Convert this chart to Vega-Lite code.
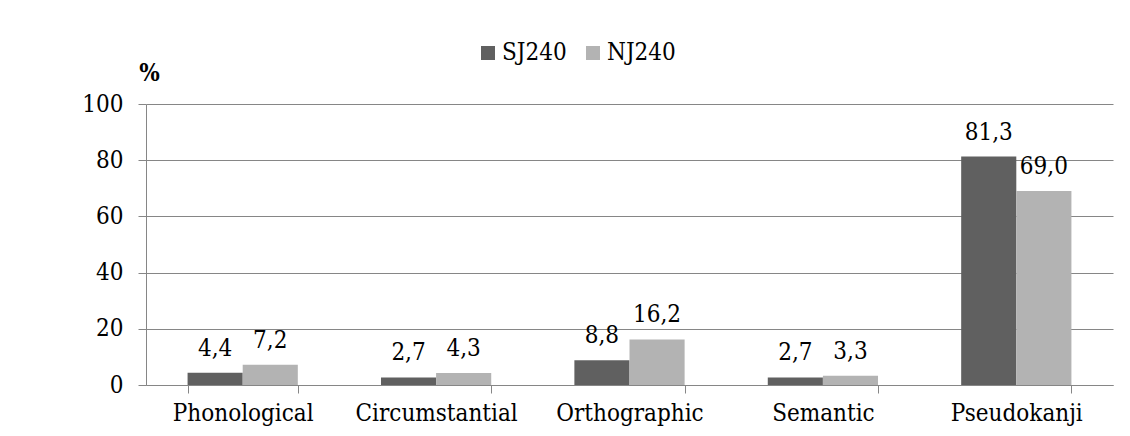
{
  "$schema": "https://vega.github.io/schema/vega-lite/v6.json",
  "width": 967,
  "height": 281,
  "autosize": "none",
  "padding": {"left": 146, "top": 104, "right": 17, "bottom": 51},
  "background": "white",
  "data": {
    "values": [
      {"category": "Phonological", "series": "SJ240", "value": 4.4},
      {"category": "Phonological", "series": "NJ240", "value": 7.2},
      {"category": "Circumstantial", "series": "SJ240", "value": 2.7},
      {"category": "Circumstantial", "series": "NJ240", "value": 4.3},
      {"category": "Orthographic", "series": "SJ240", "value": 8.8},
      {"category": "Orthographic", "series": "NJ240", "value": 16.2},
      {"category": "Semantic", "series": "SJ240", "value": 2.7},
      {"category": "Semantic", "series": "NJ240", "value": 3.3},
      {"category": "Pseudokanji", "series": "SJ240", "value": 81.3},
      {"category": "Pseudokanji", "series": "NJ240", "value": 69.0}
    ]
  },
  "encoding": {
    "x": {
      "field": "category",
      "type": "nominal",
      "sort": null,
      "scale": {"paddingInner": 0.43, "paddingOuter": 0.215},
      "axis": {
        "title": null,
        "labelAngle": 0,
        "tickBand": "extent",
        "tickSize": 8,
        "labelPadding": 8,
        "labelLimit": 0,
        "grid": false
      }
    },
    "xOffset": {
      "field": "series",
      "type": "nominal",
      "sort": ["SJ240", "NJ240"],
      "scale": {"paddingInner": 0, "paddingOuter": 0}
    },
    "y": {
      "field": "value",
      "type": "quantitative",
      "scale": {"domain": [0, 100], "nice": false},
      "axis": {
        "values": [0, 20, 40, 60, 80, 100],
        "tickSize": 8,
        "labelPadding": 15,
        "grid": true,
        "title": "%",
        "titleAngle": 0,
        "titleFontWeight": "bold",
        "titleAlign": "center",
        "titleBaseline": "alphabetic",
        "titleX": 3,
        "titleY": -24
      }
    }
  },
  "layer": [
    {
      "mark": {"type": "bar"},
      "encoding": {
        "color": {
          "field": "series",
          "type": "nominal",
          "scale": {"domain": ["SJ240", "NJ240"], "range": ["#606060", "#b3b3b3"]},
          "legend": {
            "title": null,
            "orient": "none",
            "direction": "horizontal",
            "legendX": 330,
            "legendY": -63,
            "symbolType": "square",
            "symbolSize": 196,
            "symbolStrokeWidth": 0,
            "symbolOpacity": 1,
            "labelOffset": 2,
            "columnPadding": 14
          }
        }
      }
    },
    {
      "mark": {"type": "text", "baseline": "alphabetic", "dy": -17, "fontSize": 24, "color": "black", "font": "DejaVu Serif Condensed"},
      "encoding": {
        "text": {"field": "value", "type": "quantitative", "format": ".1f"}
      }
    }
  ],
  "config": {
    "locale": {
      "number": {"decimal": ",", "thousands": ".", "grouping": [3], "currency": ["", ""]}
    },
    "view": {"stroke": null},
    "font": "DejaVu Serif Condensed",
    "axis": {
      "labelFont": "DejaVu Serif Condensed",
      "labelFontSize": 24,
      "labelColor": "black",
      "titleFont": "DejaVu Serif Condensed",
      "titleFontSize": 24,
      "titleColor": "black",
      "domainColor": "#868686",
      "tickColor": "#868686",
      "gridColor": "#868686",
      "domainWidth": 1,
      "gridWidth": 1
    },
    "legend": {
      "labelFont": "DejaVu Serif Condensed",
      "labelFontSize": 24,
      "labelColor": "black"
    }
  }
}
